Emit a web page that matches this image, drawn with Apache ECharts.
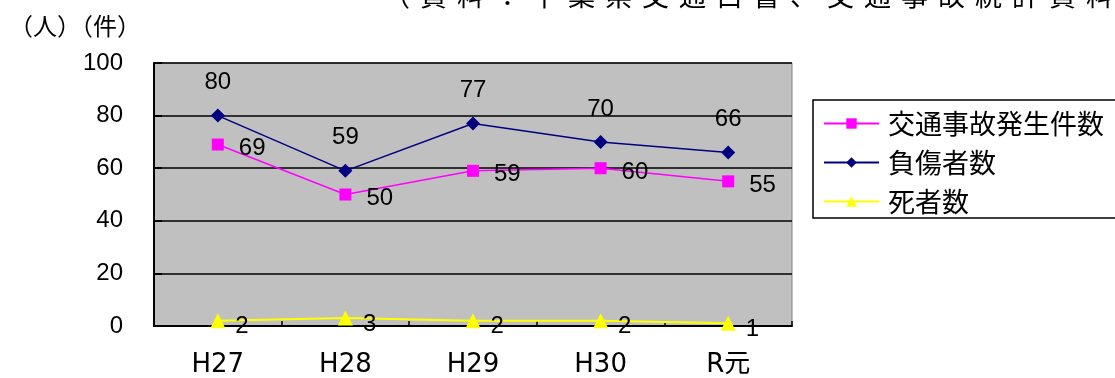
<!DOCTYPE html>
<html>
<head>
<meta charset="utf-8">
<script src="https://cdn.jsdelivr.net/npm/echarts@6.0.0/dist/echarts.min.js"></script>
<style>
html, body { margin: 0; padding: 0; background: #fff; }
#main { width: 1115px; height: 378px; }
</style>
</head>
<body>
<div id="main"></div>
<script>
// 年度
var years = ['H27', 'H28', 'H29', 'H30', 'R元'];
// 交通事故発生件数
var accidents = [69, 50, 59, 60, 55];
// 負傷者数
var injured = [80, 59, 77, 70, 66];
// 死者数
var deaths = [2, 3, 2, 2, 1];

var sourceNote = '（資料：千葉県交通白書、交通事故統計資料等）';
var unitNote = '（人）（件）';

var jp = '"Noto Sans CJK JP", sans-serif';
var num = '"Liberation Sans", Arial, sans-serif';

var chartDom = document.getElementById('main');
var myChart = echarts.init(chartDom);
var option;

// top note, spaced out char by char like the original
var noteChars = [];
for (var i = 0; i < sourceNote.length; i++) {
  noteChars.push({
    type: 'text',
    left: 383 + i * 37,
    top: -18,
    style: { text: sourceNote[i], fontFamily: 'Noto Sans CJK JP', fontSize: 27, fill: '#000' }
  });
}

option = {
  animation: false,
  backgroundColor: '#fff',
  grid: {
    left: 154,
    right: 323,
    top: 63,
    bottom: 50,
    show: true,
    backgroundColor: '#c0c0c0',
    borderColor: '#808080',
    borderWidth: 1
  },
  graphic: noteChars.concat([
    {
      type: 'text',
      left: 9,
      top: 14,
      style: { text: unitNote, fontFamily: 'Noto Sans CJK JP', fontSize: 24, fill: '#000' }
    }
  ]),
  legend: {
    orient: 'vertical',
    left: 813,
    top: 100,
    padding: [10, 40, 3, 10],
    itemGap: 12,
    itemWidth: 55,
    itemHeight: 13,
    borderColor: '#000',
    borderWidth: 1.5,
    backgroundColor: '#fff',
    textStyle: { fontFamily: jp, fontSize: 27, color: '#000', padding: [0, 0, 0, 4] },
    data: ['交通事故発生件数', '負傷者数', '死者数']
  },
  xAxis: {
    type: 'category',
    data: years,
    boundaryGap: true,
    axisLine: { lineStyle: { color: '#000', width: 2 } },
    axisTick: { show: true, inside: true, length: 5, lineStyle: { color: '#000', width: 1.5 } },
    axisLabel: { fontFamily: '"DejaVu Sans", "Noto Sans CJK JP", sans-serif', fontSize: 26, color: '#000', margin: 26 }
  },
  yAxis: {
    type: 'value',
    min: 0,
    max: 100,
    interval: 20,
    axisLine: { show: true, lineStyle: { color: '#000', width: 2 } },
    axisTick: { show: true, inside: true, length: 8, lineStyle: { color: '#000', width: 2 } },
    axisLabel: { fontFamily: num, fontSize: 24, color: '#000', margin: 31 },
    splitLine: { show: true, lineStyle: { color: '#000', width: 1.5 } }
  },
  series: [
    {
      name: '交通事故発生件数',
      type: 'line',
      data: accidents,
      symbol: 'rect',
      symbolSize: 12,
      color: '#ff00ff',
      lineStyle: { width: 1.5, color: '#ff00ff' },
      itemStyle: { color: '#ff00ff' },
      label: {
        show: true,
        position: 'right',
        distance: 15,
        offset: [0, 4],
        fontFamily: num,
        fontSize: 24,
        color: '#000'
      },
      z: 3
    },
    {
      name: '負傷者数',
      type: 'line',
      data: injured,
      symbol: 'diamond',
      symbolSize: 14,
      color: '#000080',
      lineStyle: { width: 1.5, color: '#000080' },
      itemStyle: { color: '#000080' },
      label: {
        show: true,
        position: 'top',
        distance: 14,
        fontFamily: num,
        fontSize: 24,
        color: '#000'
      },
      z: 4
    },
    {
      name: '死者数',
      type: 'line',
      data: deaths,
      symbol: 'triangle',
      symbolSize: 15,
      color: '#ffff00',
      lineStyle: { width: 2, color: '#ffff00' },
      itemStyle: { color: '#ffff00' },
      label: {
        show: true,
        position: 'right',
        distance: 10,
        offset: [0, 6],
        fontFamily: num,
        fontSize: 24,
        color: '#000'
      },
      z: 2
    }
  ]
};

option && myChart.setOption(option);
</script>
</body>
</html>
